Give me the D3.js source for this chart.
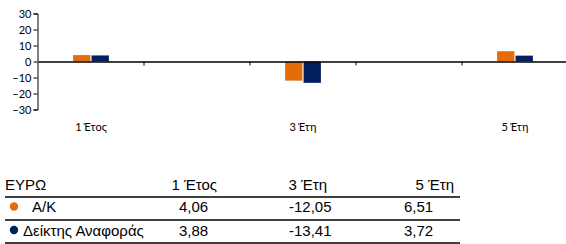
<!DOCTYPE html>
<html><head><meta charset="utf-8">
<script src="https://cdn.jsdelivr.net/npm/d3@7"></script>
<style>body{margin:0;background:#fff}svg{display:block}</style>
</head><body><svg id="c" width="566" height="244"></svg>
<script>
const categories = ["1 Έτος", "", "3 Έτη", "", "5 Έτη"];
const seriesNames = ["Α/Κ", "Δείκτης Αναφοράς"];
const seriesAK = [4.06, null, -12.05, null, 6.51];
const seriesIdx = [3.88, null, -13.41, null, 3.72];
const seriesLabelsAK = ["4,06", "-12,05", "6,51"];
const seriesLabelsIdx = ["3,88", "-13,41", "3,72"];
const tableHeaders = ["ΕΥΡΩ", "1 Έτος", "3 Έτη", "5 Έτη"];
const yTicks = [-30, -20, -10, 0, 10, 20, 30];
const colors = ["#E46C0A", "#002060"];

const svg = d3.select("#c");
const x = d3.scaleBand().domain(d3.range(categories.length)).range([38, 568]);
const y = d3.scaleLinear().domain([-30, 30]).range([109.5, 13.5]);

// y axis
const yAxis = d3.axisLeft(y).tickValues(yTicks).tickSize(4).tickSizeOuter(4);
const gy = svg.append("g").attr("transform", "translate(37.5,0)").call(yAxis);
gy.selectAll("path,line").attr("stroke", "#000").attr("stroke-width", 1);
gy.selectAll("text").attr("font-family", "Lato, 'Open Sans', sans-serif").attr("font-size", 11).attr("fill", "#000").attr("x", -6);

// bars
const inner = d3.scaleBand().domain([0, 1]).range([0, 36]).paddingInner(0.05);
const series = [seriesAK, seriesIdx];
series.forEach((vals, si) => {
  svg.append("g").selectAll("rect").data(vals.map((v, i) => ({v, i})).filter(d => d.v !== null))
    .join("rect")
    .attr("x", d => x(d.i) + x.bandwidth() / 2 - 18 + inner(si))
    .attr("width", inner.bandwidth())
    .attr("y", d => y(Math.max(0, d.v)))
    .attr("height", d => Math.abs(y(d.v) - y(0)))
    .attr("fill", colors[si])
    .attr("stroke", "#fff").attr("stroke-opacity", 0.35).attr("stroke-width", 0.6);
});

// x axis (zero line)
const xAxis = d3.axisBottom(x).tickFormat("").tickSize(0).tickSizeOuter(0);
const gx = svg.append("g").attr("transform", `translate(0,${y(0)})`).call(xAxis);
gx.select("path").attr("stroke", "#000").attr("stroke-width", 1.3);
gx.selectAll(".tick").remove();
svg.append("g").selectAll("line").data(d3.range(1, categories.length))
  .join("line")
  .attr("x1", i => x(i)).attr("x2", i => x(i))
  .attr("y1", y(0)).attr("y2", y(0) + 4)
  .attr("stroke", "#000").attr("stroke-width", 1);

// category labels
svg.append("g").selectAll("text").data(categories.map((c, i) => ({c, i})).filter(d => d.c))
  .join("text")
  .attr("x", d => x(d.i) + x.bandwidth() / 2)
  .attr("y", 131)
  .attr("text-anchor", "middle")
  .attr("font-family", "Lato, 'Open Sans', sans-serif").attr("font-size", 11)
  .text(d => d.c);

// table
const tf = "'Liberation Sans', Arial, sans-serif";
const fs = 15;
const hdrEnd = [null, 217, 327, 454];
const valStart = [179, 289, 404];
const t = svg.append("g").attr("font-family", tf).attr("font-size", fs).attr("fill", "#000");
t.append("text").attr("x", 5).attr("y", 190).text(tableHeaders[0]);
tableHeaders.slice(1).forEach((h, i) => {
  t.append("text").attr("x", hdrEnd[i + 1]).attr("y", 190).attr("text-anchor", "end").text(h);
});
[197, 220, 243].forEach(ly => {
  t.append("line").attr("x1", 5).attr("x2", 460).attr("y1", ly).attr("y2", ly)
    .attr("stroke", "#000").attr("stroke-width", 1.5);
});
const rows = [seriesLabelsAK, seriesLabelsIdx];
const rowY = [212, 235.5];
rows.forEach((r, ri) => {
  t.append("circle").attr("cx", 14).attr("cy", rowY[ri] - 5.5).attr("r", 4.2).attr("fill", colors[ri]);
  t.append("text").attr("x", ri === 0 ? 32 : 23).attr("y", rowY[ri]).text(seriesNames[ri]);
  r.forEach((v, ci) => {
    t.append("text").attr("x", valStart[ci]).attr("y", rowY[ri]).text(v);
  });
});
</script></body></html>
